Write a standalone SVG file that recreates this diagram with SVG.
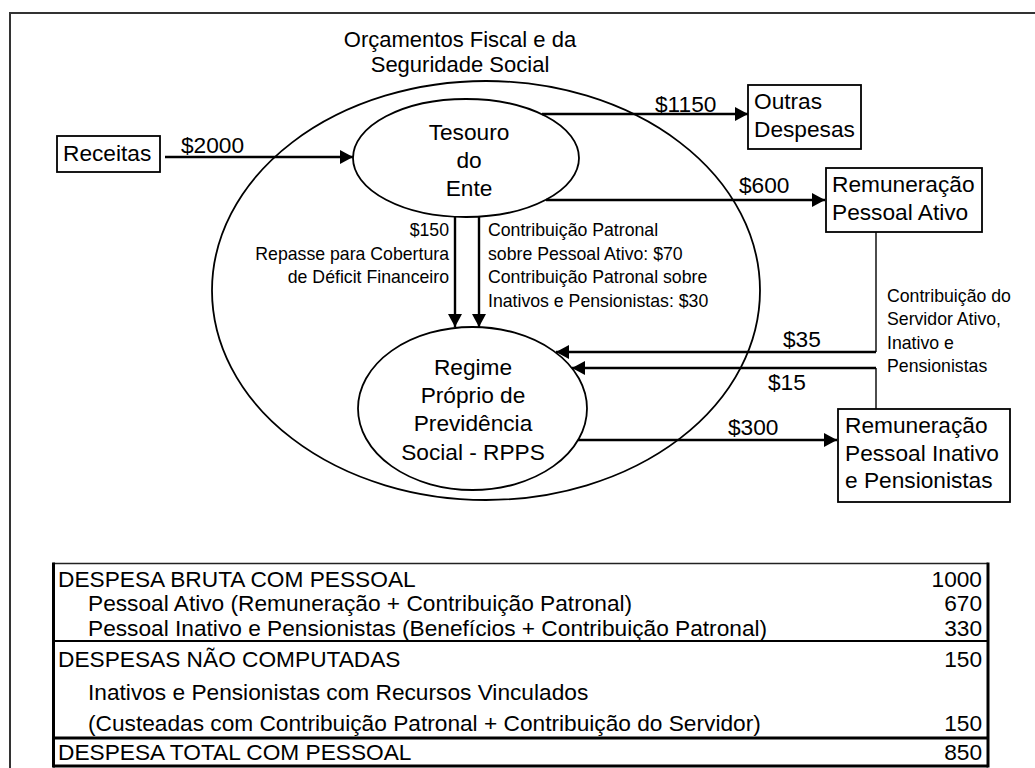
<svg xmlns="http://www.w3.org/2000/svg" width="1035" height="768" viewBox="0 0 1035 768">
<style>
text{font-family:"Liberation Sans",Arial,sans-serif;fill:#000}
.b{font-size:22.7px}
.t{font-size:22px}
.s{font-size:17.7px}
.m{text-anchor:middle}
.e{text-anchor:end}
.shape{fill:#fff;stroke:#000;stroke-width:1.8}
.ell{fill:none;stroke:#000;stroke-width:1.8}
.arr{fill:none;stroke:#000;stroke-width:2.4}
.thin{fill:none;stroke:#000;stroke-width:1.4}
</style>
<defs>
<marker id="ah" markerUnits="userSpaceOnUse" markerWidth="13" markerHeight="14" refX="13" refY="7" orient="auto">
<path d="M0,0 L13,7 L0,14 z" fill="#000"/>
</marker>
</defs>
<rect width="1035" height="768" fill="#fff"/>
<path d="M10,768 V13 H1035" fill="none" stroke="#333" stroke-width="2"/>

<g id="orcamentos">
<ellipse class="ell" cx="486" cy="290.5" rx="274" ry="209.5"/>
<text class="t m" x="460" y="47">Orçamentos Fiscal e da</text>
<text class="t m" x="460" y="72">Seguridade Social</text>
</g>

<g id="receitas">
<rect class="shape" x="57" y="136" width="103" height="36"/>
<text class="b" x="63" y="161">Receitas</text>
</g>

<g id="tesouro">
<ellipse class="shape" cx="466" cy="158" rx="113" ry="59"/>
<text class="b m" x="469" y="140">Tesouro</text>
<text class="b m" x="469" y="168">do</text>
<text class="b m" x="469" y="196">Ente</text>
</g>

<g id="outras">
<rect class="shape" x="748" y="85" width="113" height="64"/>
<text class="b" x="754" y="109">Outras</text>
<text class="b" x="754" y="137">Despesas</text>
</g>

<g id="ativo">
<rect class="shape" x="826" y="168" width="156" height="64"/>
<text class="b" x="832" y="192">Remuneração</text>
<text class="b" x="832" y="220">Pessoal Ativo</text>
</g>

<g id="rpps">
<ellipse class="shape" cx="472.5" cy="408.5" rx="114.5" ry="81.5"/>
<text class="b m" x="473" y="375">Regime</text>
<text class="b m" x="473" y="403">Próprio de</text>
<text class="b m" x="473" y="431">Previdência</text>
<text class="b m" x="473" y="460">Social - RPPS</text>
</g>

<g id="inativo">
<rect class="shape" x="838" y="409" width="172" height="93"/>
<text class="b" x="845" y="433">Remuneração</text>
<text class="b" x="845" y="461">Pessoal Inativo</text>
<text class="b" x="845" y="488">e Pensionistas</text>
</g>

<g id="connectors">
<path class="arr" d="M165,157 H353" marker-end="url(#ah)"/>
<path class="arr" d="M542,114 H748" marker-end="url(#ah)"/>
<path class="arr" d="M546,200 H825" marker-end="url(#ah)"/>
<path class="arr" d="M455,217 V327" marker-end="url(#ah)"/>
<path class="arr" d="M479,217 V327" marker-end="url(#ah)"/>
<path class="thin" d="M876,232 V352"/>
<path class="arr" d="M876,352 H556" marker-end="url(#ah)"/>
<path class="thin" d="M876,409 V368"/>
<path class="arr" d="M876,368 H572" marker-end="url(#ah)"/>
<path class="arr" d="M578,440 H837" marker-end="url(#ah)"/>
</g>

<g id="labels">
<text class="b" x="181" y="153">$2000</text>
<text class="b" x="655" y="112">$1150</text>
<text class="b" x="739" y="193">$600</text>
<text class="b" x="783" y="347">$35</text>
<text class="b" x="768" y="390">$15</text>
<text class="b" x="728" y="435">$300</text>
<text class="s e" x="449" y="236">$150</text>
<text class="s e" x="449" y="260">Repasse para Cobertura</text>
<text class="s e" x="449" y="283">de Déficit Financeiro</text>
<text class="s" x="488" y="236">Contribuição Patronal</text>
<text class="s" x="488" y="260">sobre Pessoal Ativo: $70</text>
<text class="s" x="488" y="283">Contribuição Patronal sobre</text>
<text class="s" x="488" y="307">Inativos e Pensionistas: $30</text>
<text class="s" x="887" y="302">Contribuição do</text>
<text class="s" x="887" y="325">Servidor Ativo,</text>
<text class="s" x="887" y="349">Inativo e</text>
<text class="s" x="887" y="372">Pensionistas</text>
</g>

<g id="tabela">
<line x1="53" y1="563.5" x2="988" y2="563.5" stroke="#222" stroke-width="1.6"/>
<line x1="53" y1="641" x2="988" y2="641" stroke="#000" stroke-width="2"/>
<line x1="53" y1="738" x2="988" y2="738" stroke="#000" stroke-width="3"/>
<line x1="53" y1="766" x2="988" y2="766" stroke="#000" stroke-width="3"/>
<line x1="53.5" y1="562.5" x2="53.5" y2="767.5" stroke="#000" stroke-width="3"/>
<line x1="988" y1="562.5" x2="988" y2="767.5" stroke="#000" stroke-width="3"/>
<text class="b" x="58" y="587">DESPESA BRUTA COM PESSOAL</text>
<text class="b e" x="982" y="587">1000</text>
<text class="b" x="88" y="611">Pessoal Ativo (Remuneração + Contribuição Patronal)</text>
<text class="b e" x="982" y="611">670</text>
<text class="b" x="88" y="636">Pessoal Inativo e Pensionistas (Benefícios + Contribuição Patronal)</text>
<text class="b e" x="982" y="636">330</text>
<text class="b" x="58" y="667">DESPESAS NÃO COMPUTADAS</text>
<text class="b e" x="982" y="667">150</text>
<text class="b" x="88" y="700">Inativos e Pensionistas com Recursos Vinculados</text>
<text class="b" x="88" y="731">(Custeadas com Contribuição Patronal + Contribuição do Servidor)</text>
<text class="b e" x="982" y="731">150</text>
<text class="b" x="58" y="760">DESPESA TOTAL COM PESSOAL</text>
<text class="b e" x="982" y="760">850</text>
</g>
</svg>
